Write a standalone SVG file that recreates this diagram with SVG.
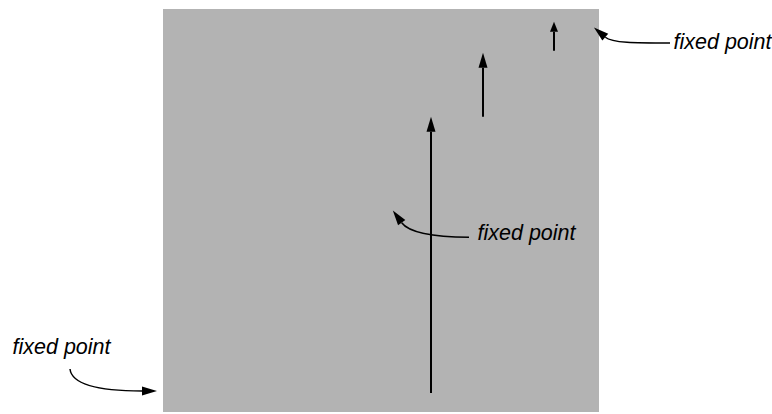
<svg xmlns="http://www.w3.org/2000/svg" width="772" height="414" viewBox="0 0 772 414">
  <defs>
    <marker id="ah" markerUnits="userSpaceOnUse" markerWidth="15" markerHeight="9" refX="0" refY="4.5" orient="auto" overflow="visible">
      <path d="M0,0 L15,4.5 L0,9 z" fill="#000"/>
    </marker>
    <marker id="ahs" markerUnits="userSpaceOnUse" markerWidth="10" markerHeight="8" refX="0" refY="4" orient="auto" overflow="visible">
      <path d="M0,0 L10,4 L0,8 z" fill="#000"/>
    </marker>
    <style>
      .lbl { font-family: "Liberation Sans", Arial, sans-serif; font-style: italic; font-size: 21.5px; fill: #000; }
      .vec { stroke: #000; stroke-width: 2; fill: none; }
      .pointer { stroke: #000; stroke-width: 1.5; fill: none; }
    </style>
  </defs>
  <g id="field">
    <rect x="163" y="9" width="436" height="403" fill="#b3b3b3"/>
  </g>
  <g id="connectors">
    <line class="vec" x1="431" y1="393" x2="431" y2="131.7" marker-end="url(#ah)"/>
    <line class="vec" x1="483" y1="116.7" x2="483" y2="67.7" marker-end="url(#ah)"/>
    <line class="vec" x1="554" y1="50.7" x2="554" y2="31.7" marker-end="url(#ahs)"/>
    <path class="pointer" d="M670,43 C635,43 612,43 605.3,37.2" marker-end="url(#ah)"/>
    <path class="pointer" d="M469,237.3 C440,237 410,234 401.7,222.7" marker-end="url(#ah)"/>
    <path class="pointer" d="M70,369 C72,386 105,391 142,391" marker-end="url(#ah)"/>
  </g>
  <g id="label-top">
    <text class="lbl" x="673.5" y="48.5">fixed point</text>
  </g>
  <g id="label-middle">
    <text class="lbl" x="477.5" y="240">fixed point</text>
  </g>
  <g id="label-left">
    <text class="lbl" x="12.5" y="354">fixed point</text>
  </g>
</svg>
